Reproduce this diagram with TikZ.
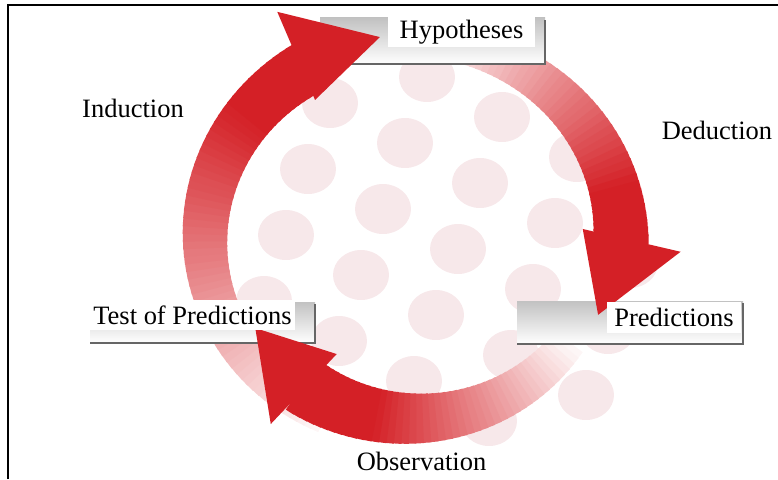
\documentclass[tikz,border=0pt]{standalone}
\usepackage{fontspec}
\setmainfont{Liberation Serif}

\definecolor{arrowred}{RGB}{212,32,38}
\definecolor{dotpink}{RGB}{247,232,234}

\begin{document}
\begin{tikzpicture}[
    x=0.453pt, y=0.453pt,
    stagelabel/.style={fill=white, inner xsep=0pt, inner ysep=1.5pt, minimum height=13.6pt, font=\fontsize{12}{14}\selectfont},
    boxback/.style={top color=black!24, bottom color=white},
    boxshadow/.style={line width=1.3pt, black!60},
    ring/.style={shift={(413,241)}, x=90.6pt, y=86.1pt},
    head/.style={fill=arrowred}
]
\useasboundingbox (0,0) rectangle (778,479);

% Frame
\draw[line width=0.9pt] (8,0) -- (8,474) -- (778,474);

% Background dots, only inside the ring
\foreach \i in {-2,...,4}
  \foreach \j in {-1,...,6}{
    \pgfmathsetmacro\dx{427+75*\i-22*\j}
    \pgfmathsetmacro\dy{402-40*\i-66*\j}
    \pgfmathtruncatemacro\inside{((\dx-450)/205)^2+((\dy-225)/195)^2<1}
    \ifnum\inside=1
      \fill[dotpink] (\dx,\dy) ellipse [x radius=28, y radius=25];
    \fi
  }

% Shafts, fading in towards the heads
\begin{scope}[ring]
% Induction
\foreach \i in {0,...,62}{
  \pgfmathsetmacro\a{245-2*\i}
  \pgfmathtruncatemacro\p{min(100,4+\i*1.9)}
  \pgfmathsetmacro\w{15+10*\i/62}
  \draw[line width=\w pt, arrowred!\p!white] (\a:1.04) arc[start angle=\a, end angle=\a-2.6, radius=1.04];
}
% Deduction
\foreach \i in {0,...,42}{
  \pgfmathsetmacro\a{85-2*\i}
  \pgfmathtruncatemacro\p{min(100,4+\i*100/36)}
  \pgfmathsetmacro\w{15+10*\i/42}
  \draw[line width=\w pt, arrowred!\p!white] (\a:1.04) arc[start angle=\a, end angle=\a-2.6, radius=1.04];
}
% Observation
\foreach \i in {0,...,44}{
  \pgfmathsetmacro\a{-35-2*\i}
  \pgfmathtruncatemacro\p{min(100,4+\i*100/34)}
  \pgfmathsetmacro\w{16+11*\i/44}
  \draw[line width=\w pt, arrowred!\p!white] (\a:0.95) arc[start angle=\a, end angle=\a-2.6, radius=0.95];
}
\end{scope}

% Boxes behind the labels
\fill[boxback] (320,415) rectangle (545,461);
\draw[boxshadow] (320,415) -- (545,415) -- (545,459);
\fill[boxback] (517,135) rectangle (743,178);
\draw[boxshadow] (517,135) -- (743,135) -- (743,176);
\fill[boxback] (90,136) rectangle (315,177);
\draw[boxshadow] (90,136) -- (315,136) -- (315,175);

% Arrow heads
\begin{scope}[ring]
\fill[head] (119.7:1.37) -- (98.9:1.07) -- (124:0.876) -- cycle;
\fill[head] (-3.1:1.34) -- (-23.6:1.01) -- (3.2:0.85) -- cycle;
\fill[head] (234:1.21) -- (211:0.92) -- (238:0.72) -- cycle;
\end{scope}

% Labels
\node[stagelabel, minimum width=66.6pt] (hyp) at (461.5,447) {Hypotheses};
\node[stagelabel, minimum width=60.7pt] (pred) at (674,161.5) {Predictions};
\node[stagelabel, minimum width=92.9pt] (test) at (192.5,164) {Test of Predictions};
\node[stagelabel, minimum width=62.1pt] (obs) at (421.5,18) {Observation};
\node[stagelabel] (ind) at (133,371) {Induction};
\node[stagelabel] (ded) at (717,349) {Deduction};

\end{tikzpicture}
\end{document}
